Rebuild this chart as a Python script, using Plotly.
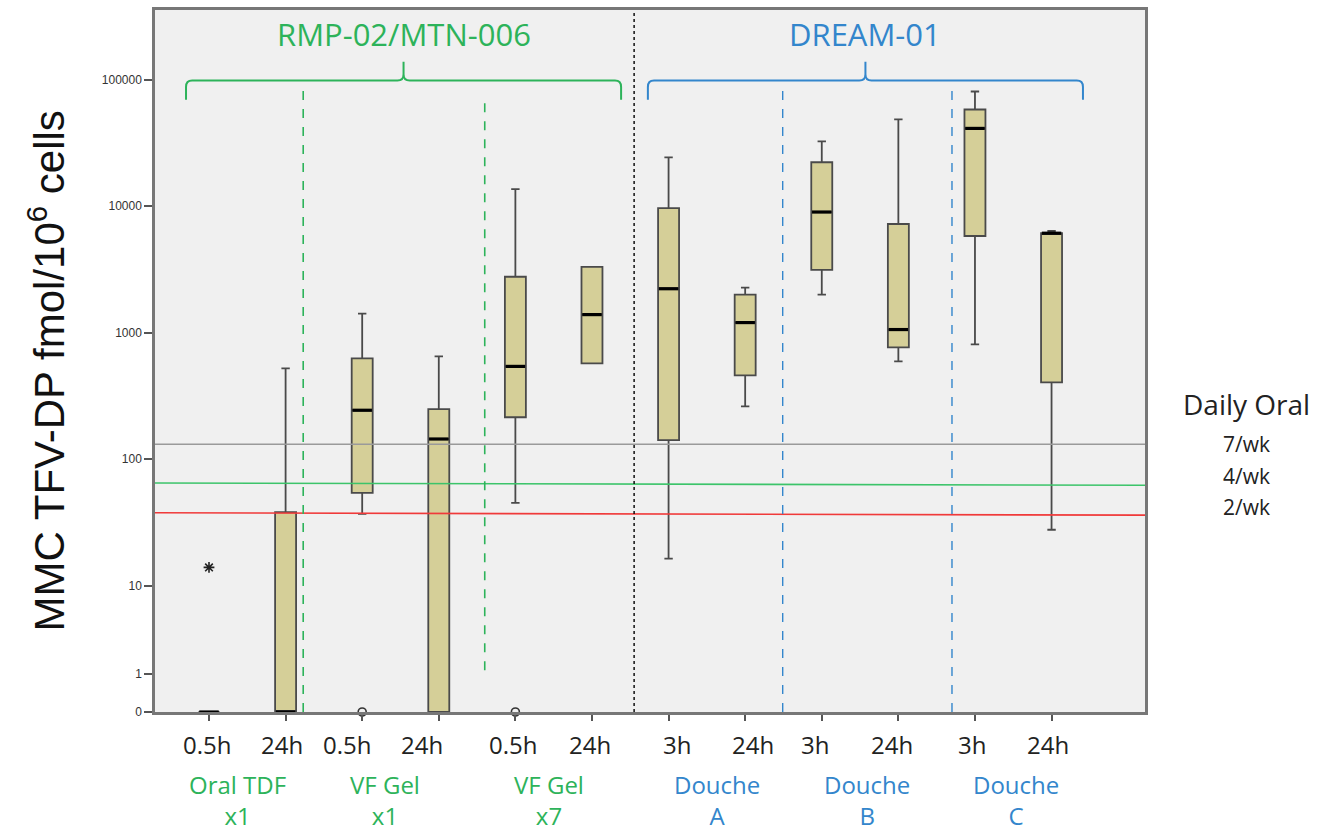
import numpy as np
import plotly.graph_objects as go

# ---------------- data ----------------
time_labels = ["0.5h", "24h", "0.5h", "24h", "0.5h", "24h",
               "3h", "24h", "3h", "24h", "3h", "24h"]
group_labels = ["Oral TDF<br>x1", "VF Gel<br>x1", "VF Gel<br>x7",
                "Douche<br>A", "Douche<br>B", "Douche<br>C"]
study_labels = ["RMP-02/MTN-006", "DREAM-01"]

q1 = [0, 0, 54, 0, 214, 570, 141, 459, 3130, 762, 5800, 404]
median = [0, 0, 243, 144, 540, 1386, 2220, 1199, 8970, 1056, 41100, 6100]
q3 = [0, 38, 624, 248, 2760, 3310, 9640, 1992, 22200, 7210, 58000, 6100]
upper = [0, 521, 1412, 647, 13600, 3310, 24300, 2262, 32500, 48400, 80500, 6350]
lower = [0, 0, 36.9, 0, 45, 570, 16.3, 261, 1992, 591, 805, 27.6]

star_outlier_idx = [0]
star_outlier_val = [13.9]
circle_outlier_idx = [2, 4]
circle_outlier_val = [0, 0]

oral_labels = ["7/wk", "4/wk", "2/wk"]
oral_left = [131, 64.7, 37.6]
oral_right = [131, 62, 36]

tick_values = [0, 1, 10, 100, 1000, 10000, 100000]
tick_text = ["0", "1", "10", "100", "1000", "10000", "100000"]

# ---------------- layout helpers ----------------
GREEN = "#2db35a"
BLUE = "#3386cc"
xpos = list(range(12))
time_label_x = [-0.03, 0.95, 1.80, 2.78, 3.97, 4.97, 6.11, 7.10, 7.91, 8.92, 9.96, 10.95]
group_label_x = [0.37, 2.30, 4.44, 6.63, 8.59, 10.54]
group_colors = [GREEN, GREEN, GREEN, BLUE, BLUE, BLUE]
BW = 0.274
XR = [-0.705, 12.22]
YR = [0, 5.55]
L, R, T, B = 155, 196, 7, 122
PW, PH = 1341 - L - R, 834 - T - B
FONT = "Open Sans"


def tf(v):
    v = np.asarray(v, dtype=float)
    return np.where(v >= 10, np.log10(np.maximum(v, 1e-9)),
                    np.where(v >= 1, 0.3 + 0.7 * np.log10(np.maximum(v, 1)), 0.3 * v))


def px2paper(x, y):
    return (x - L) / PW, (834 - B - y) / PH


fig = go.Figure()

# reference lines for daily oral dosing
oral_colors = ["#9a9a9a", "#3cc46a", "#f03a3a"]
for lab, l, r, c in zip(oral_labels, oral_left, oral_right, oral_colors):
    fig.add_trace(go.Scatter(x=XR, y=tf([l, r]), mode="lines",
                             line=dict(color=c, width=1.6), hoverinfo="skip",
                             showlegend=False, cliponaxis=True))

# boxes
fig.add_trace(go.Box(
    x=xpos, q1=tf(q1), median=tf(median), q3=tf(q3),
    lowerfence=tf(lower), upperfence=tf(upper),
    width=BW, whiskerwidth=0.4, boxpoints=False,
    fillcolor="#d5cf98", line=dict(color="#4a4a4a", width=1.8),
    showlegend=False, hoverinfo="skip"))

# thick medians
mx, my = [], []
for p, m in zip(xpos, tf(median)):
    mx += [p - BW / 2 + 0.01, p + BW / 2 - 0.01, None]
    my += [m, m, None]
fig.add_trace(go.Scatter(x=mx, y=my, mode="lines", line=dict(color="black", width=3.2),
                         showlegend=False, hoverinfo="skip", cliponaxis=False))

# outliers
fig.add_trace(go.Scatter(x=[xpos[i] for i in star_outlier_idx], y=tf(star_outlier_val),
                         mode="markers",
                         marker=dict(symbol="asterisk-open", size=9, color="#222",
                                     line=dict(color="#222", width=1.6)),
                         showlegend=False, hoverinfo="skip", cliponaxis=False))
fig.add_trace(go.Scatter(x=[xpos[i] for i in circle_outlier_idx], y=tf(circle_outlier_val),
                         mode="markers",
                         marker=dict(symbol="circle-open", size=8, color="#333",
                                     line=dict(color="#333", width=1.6)),
                         showlegend=False, hoverinfo="skip", cliponaxis=False))

shapes = []
# vertical separators
shapes.append(dict(type="line", xref="x", yref="y", x0=1.23, x1=1.23, y0=0, y1=4.976,
                   line=dict(color=GREEN, width=1.6, dash="dash")))
shapes.append(dict(type="line", xref="x", yref="y", x0=3.60, x1=3.60, y0=0.33, y1=4.82,
                   line=dict(color=GREEN, width=1.6, dash="dash")))
shapes.append(dict(type="line", xref="x", yref="y", x0=5.55, x1=5.55, y0=0, y1=YR[1],
                   line=dict(color="black", width=1.4, dash="dot")))
for xv in [7.49, 9.70]:
    shapes.append(dict(type="line", xref="x", yref="y", x0=xv, x1=xv, y0=0, y1=4.976,
                       line=dict(color=BLUE, width=1.4, dash="dash")))


def bracket(x0, x1, color):
    xc = (x0 + x1) / 2
    y0, yb, yt = 4.992, 4.84, 5.14
    dx, dy = 0.08, 0.05
    path = (f"M {x0},{yb} L {x0},{y0 - dy} Q {x0},{y0} {x0 + dx},{y0} "
            f"L {xc - dx},{y0} Q {xc},{y0} {xc},{y0 + dy} L {xc},{yt} "
            f"M {xc},{y0 + dy} Q {xc},{y0} {xc + dx},{y0} "
            f"L {x1 - dx},{y0} Q {x1},{y0} {x1},{y0 - dy} L {x1},{yb}")
    return dict(type="path", xref="x", yref="y", path=path,
                line=dict(color=color, width=2))


shapes.append(bracket(-0.30, 5.38, GREEN))
shapes.append(bracket(5.73, 11.41, BLUE))

annotations = []
annotations.append(dict(x=2.54, y=5.36, xref="x", yref="y", text=study_labels[0],
                        showarrow=False, xanchor="center", yanchor="middle",
                        font=dict(family=FONT, size=31, color=GREEN)))
annotations.append(dict(x=8.57, y=5.36, xref="x", yref="y", text=study_labels[1],
                        showarrow=False, xanchor="center", yanchor="middle",
                        font=dict(family=FONT, size=31, color=BLUE)))

for xv, t in zip(time_label_x, time_labels):
    annotations.append(dict(x=xv, y=px2paper(0, 745)[1], xref="x", yref="paper", text=t,
                            showarrow=False, xanchor="center", yanchor="middle",
                            font=dict(family=FONT, size=24, color="#222")))
for xv, t, c in zip(group_label_x, group_labels, group_colors):
    annotations.append(dict(x=xv, y=px2paper(0, 800)[1], xref="x", yref="paper", text=t,
                            showarrow=False, xanchor="center", yanchor="middle",
                            align="center",
                            font=dict(family=FONT, size=24, color=c)))

# y-axis title
tx, ty = px2paper(47, 370)
annotations.append(dict(x=tx, y=ty, xref="paper", yref="paper",
                        text="MMC TFV-DP fmol/10<sup>6</sup> cells", textangle=-90,
                        showarrow=False, xanchor="center", yanchor="middle",
                        font=dict(family="Liberation Sans Narrow, Liberation Sans", size=42,
                                  color="#111")))

# right-side legend text
dx_, dy_ = px2paper(1246, 403)
annotations.append(dict(x=dx_, y=dy_, xref="paper", yref="paper", text="Daily Oral",
                        showarrow=False, xanchor="center", yanchor="middle",
                        font=dict(family=FONT, size=28, color="#222")))
for lab, yy in zip(oral_labels, [443, 475, 506]):
    ax_, ay_ = px2paper(1246, yy)
    annotations.append(dict(x=ax_, y=ay_, xref="paper", yref="paper", text=lab,
                            showarrow=False, xanchor="center", yanchor="middle",
                            font=dict(family=FONT, size=21, color="#222")))

fig.update_layout(
    width=1341, height=834,
    margin=dict(l=L, r=R, t=T, b=B),
    paper_bgcolor="white", plot_bgcolor="#f0f0f0",
    shapes=shapes, annotations=annotations, showlegend=False,
    xaxis=dict(range=XR, tickvals=xpos, showticklabels=False, ticks="outside",
               ticklen=6, tickcolor="#555", tickwidth=1.5, showgrid=False,
               zeroline=False, showline=True, linecolor="#777", linewidth=2.5,
               mirror=True),
    yaxis=dict(range=YR, tickvals=tf(tick_values), ticktext=tick_text,
               ticks="outside", ticklen=8, tickcolor="#555", tickwidth=1.5,
               showgrid=False, zeroline=False, showline=True, linecolor="#777",
               linewidth=2.5, mirror=True,
               tickfont=dict(family="Liberation Sans", size=12, color="#333")),
)

fig.write_html("out.html", config={"displayModeBar": False},
               post_script="document.body.style.margin='0px';")
